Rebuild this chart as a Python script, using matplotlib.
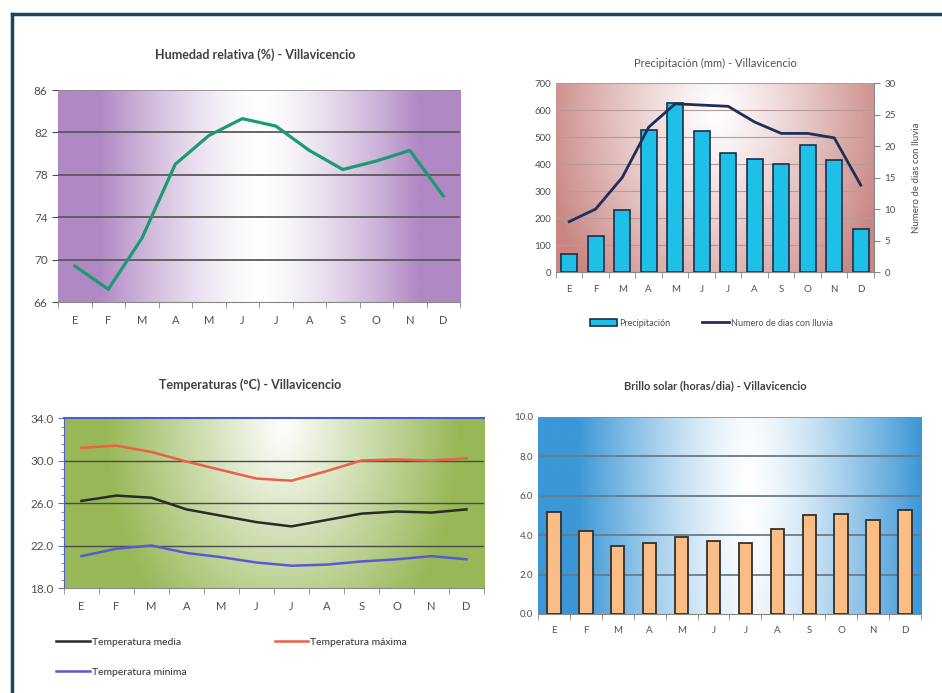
import numpy as np
import matplotlib
matplotlib.use('Agg')
import matplotlib.pyplot as plt
from matplotlib.lines import Line2D
from matplotlib.colors import to_rgb

plt.rcParams['font.family'] = ['Lato', 'DejaVu Sans']

meses = ['E', 'F', 'M', 'A', 'M', 'J', 'J', 'A', 'S', 'O', 'N', 'D']

humedad = [69.4, 67.2, 72.0, 79.0, 81.7, 83.3, 82.6, 80.3, 78.5, 79.3, 80.3, 76.0]

precipitacion = [65, 135, 228, 525, 625, 523, 440, 418, 400, 472, 415, 160]
dias_lluvia = [8.0, 10.0, 15.0, 23.0, 26.7, 26.5, 26.3, 23.8, 22.0, 22.0, 21.3, 13.8]

temp_max = [31.2, 31.4, 30.8, 29.9, 29.1, 28.3, 28.1, 29.0, 30.0, 30.1, 30.0, 30.2]
temp_media = [26.2, 26.7, 26.5, 25.4, 24.8, 24.2, 23.8, 24.4, 25.0, 25.2, 25.1, 25.4]
temp_min = [21.0, 21.7, 22.0, 21.3, 20.9, 20.4, 20.1, 20.2, 20.5, 20.7, 21.0, 20.7]

brillo = [5.2, 4.2, 3.45, 3.6, 3.9, 3.7, 3.6, 4.3, 5.05, 5.1, 4.75, 5.3]

TXT = '#404040'
TICK = '#505050'


def fondo(ax, color, cx, cy, rx, ry, p=1.3):
    # gradient fill of the plot area, white in the middle
    xs = np.linspace(0, 1, 300)
    ys = np.linspace(0, 1, 150)
    X, Y = np.meshgrid(xs, ys)
    d = np.sqrt(((X - cx) / rx) ** 2 + ((Y - cy) / ry) ** 2)
    w = np.clip(d, 0, 1) ** p
    c = np.array(to_rgb(color))
    img = (1 - w[..., None]) * 1.0 + w[..., None] * c
    ax.imshow(img, extent=(0, 1, 0, 1), transform=ax.transAxes, origin='lower',
              aspect='auto', zorder=0, interpolation='bilinear')


def ejes_mes(ax):
    x = np.arange(12)
    ax.set_xlim(-0.5, 11.5)
    ax.set_xticks(x)
    ax.set_xticklabels(meses)
    ax.set_xticks(np.arange(-0.5, 12, 1), minor=True)
    ax.tick_params(axis='x', which='major', length=0, pad=9, labelsize=8, colors=TICK)
    ax.tick_params(axis='x', which='minor', length=4, color='#888888')
    ax.tick_params(axis='y', labelsize=8.5, colors=TICK, length=4)
    return x


def rejilla(ax, vals, color='#5a5a5a', lw=1.3):
    for v in vals:
        ax.axhline(v, color=color, lw=lw, zorder=1)


fig = plt.figure(figsize=(9.42, 6.93), dpi=100)

# marco
fig.add_artist(Line2D([0.0125, 1.0], [1 - 14 / 693, 1 - 14 / 693], color='#1b4468', lw=2.5))
fig.add_artist(Line2D([0.0125, 0.0125], [0.0, 1 - 14 / 693], color='#1b4468', lw=2.5))

# --- Humedad relativa
ax1 = fig.add_axes([0.0616, 0.5642, 0.4268, 0.3059])
fondo(ax1, '#b088c4', 0.5, 0.5, 0.40, 50, 1.4)
x = ejes_mes(ax1)
ax1.set_ylim(66, 86)
ax1.set_yticks(np.arange(66, 87, 4))
rejilla(ax1, [70, 74, 78, 82])
ax1.plot(x, humedad, color='#1c9a72', lw=2.3, zorder=3)
for s in ['top', 'right']:
    ax1.spines[s].set_visible(False)
ax1.spines['left'].set_visible(False)
ax1.spines['bottom'].set_color('#888888')
ax1.axhline(86, color='#8a8a8a', lw=1.2, zorder=1)
fig.text(0.271, 0.9206, 'Humedad relativa (%) - Villavicencio', ha='center', va='center',
         fontsize=9, fontweight='bold', color=TXT)

# --- Precipitacion
ax2 = fig.add_axes([0.5902, 0.6075, 0.3376, 0.2727])
fondo(ax2, '#c98683', 0.5, 0.85, 0.55, 1.3, 1.2)
x = ejes_mes(ax2)
ax2.set_ylim(0, 700)
ax2.set_yticks(np.arange(0, 701, 100))
ax2.tick_params(axis='y', labelsize=7, length=0)
ax2.tick_params(axis='x', labelsize=7)
rejilla(ax2, np.arange(100, 701, 100), color='#b89a98', lw=0.8)
b2 = ax2.bar(x, precipitacion, width=0.6, color='#1fc0e8', edgecolor='#1e2e48', lw=1.2, zorder=3,
             label='Precipitación')
for s in ['top', 'left', 'right']:
    ax2.spines[s].set_visible(False)
ax2.spines['bottom'].set_color('#888888')
ax2b = ax2.twinx()
ax2b.set_ylim(0, 30)
ax2b.set_yticks(np.arange(0, 31, 5))
l2, = ax2b.plot(x, dias_lluvia, color='#1f2f5a', lw=2, zorder=4, label='Numero de dias con lluvia')
ax2b.tick_params(axis='y', labelsize=7, colors=TICK, length=4, color='#888888')
for s in ['top', 'left', 'bottom']:
    ax2b.spines[s].set_visible(False)
ax2b.spines['right'].set_color('#888888')
ax2b.set_ylabel('Numero de dias con lluvia', fontsize=7, color=TICK, labelpad=12)
fig.text(0.759, 0.909, 'Precipitación (mm) - Villavicencio', ha='center', va='center',
         fontsize=8, color='#505050')
fig.legend([b2, l2], ['Precipitación', 'Numero de dias con lluvia'], loc='center',
           bbox_to_anchor=(0.755, 1 - 323 / 693), ncol=2, frameon=False, fontsize=6.5,
           handlelength=3.0, handletextpad=0.2, columnspacing=3.5, labelcolor=TICK)

# --- Temperaturas
ax3 = fig.add_axes([0.0679, 0.1515, 0.4459, 0.2453])
fondo(ax3, '#98b858', 0.52, 0.95, 0.42, 1.5, 1.0)
x = ejes_mes(ax3)
ax3.set_ylim(18, 34)
ax3.set_yticks(np.arange(18, 35, 4))
ax3.set_yticklabels(['%.1f' % v for v in np.arange(18, 35, 4)])
ax3.set_yticks(np.arange(18, 34.1, 0.8), minor=True)
ax3.tick_params(axis='y', which='minor', length=2, color='#6070c0')
ax3.tick_params(axis='y', which='major', color='#6070c0')
rejilla(ax3, [22, 26, 30], color='#4a4a4a', lw=1.0)
lm, = ax3.plot(x, temp_media, color='#2a2a2a', lw=1.8, zorder=3)
lx, = ax3.plot(x, temp_max, color='#ec5f48', lw=1.8, zorder=3)
ln, = ax3.plot(x, temp_min, color='#5a5ad0', lw=1.8, zorder=3)
ax3.spines['right'].set_visible(False)
ax3.spines['top'].set_color('#4a5ec8')
ax3.spines['top'].set_linewidth(1.5)
ax3.spines['left'].set_color('#4a5ec8')
ax3.spines['bottom'].set_color('#888888')
fig.text(0.265, 0.4444, 'Temperaturas (°C) - Villavicencio', ha='center', va='center',
         fontsize=9, fontweight='bold', color=TXT)
# column-major fill: media / minima in column 1, maxima in column 2
fig.legend([lm, ln, lx], ['Temperatura media', 'Temperatura minima', 'Temperatura máxima'],
           loc='upper left', bbox_to_anchor=(0.05, 1 - 628 / 693), ncol=2, frameon=False,
           fontsize=7.5, handlelength=3.2, handletextpad=0.2, columnspacing=8.5, labelspacing=2.0,
           labelcolor='#303030')

# --- Brillo solar
ax4 = fig.add_axes([0.5711, 0.114, 0.4066, 0.2843])
fondo(ax4, '#3b97d6', 0.55, 0.6, 0.45, 4.0, 1.3)
x = ejes_mes(ax4)
ax4.set_ylim(0, 10)
ax4.set_yticks(np.arange(0, 11, 2))
ax4.set_yticklabels(['%.1f' % v for v in np.arange(0, 11, 2)])
ax4.tick_params(axis='y', labelsize=7, length=0)
ax4.tick_params(axis='x', labelsize=7)
rejilla(ax4, [2, 4, 6, 8], color='#6a7a88', lw=1.3)
ax4.axhline(10, color='#8a8a8a', lw=1.2, zorder=1)
ax4.bar(x, brillo, width=0.42, color='#fbbd86', edgecolor='#303030', lw=1.3, zorder=3)
for s in ['top', 'left', 'right']:
    ax4.spines[s].set_visible(False)
ax4.spines['bottom'].set_color('#888888')
fig.text(0.759, 0.443, 'Brillo solar (horas/dia) - Villavicencio', ha='center', va='center',
         fontsize=8, fontweight='bold', color=TXT)

fig.savefig('out.png', dpi=100)
